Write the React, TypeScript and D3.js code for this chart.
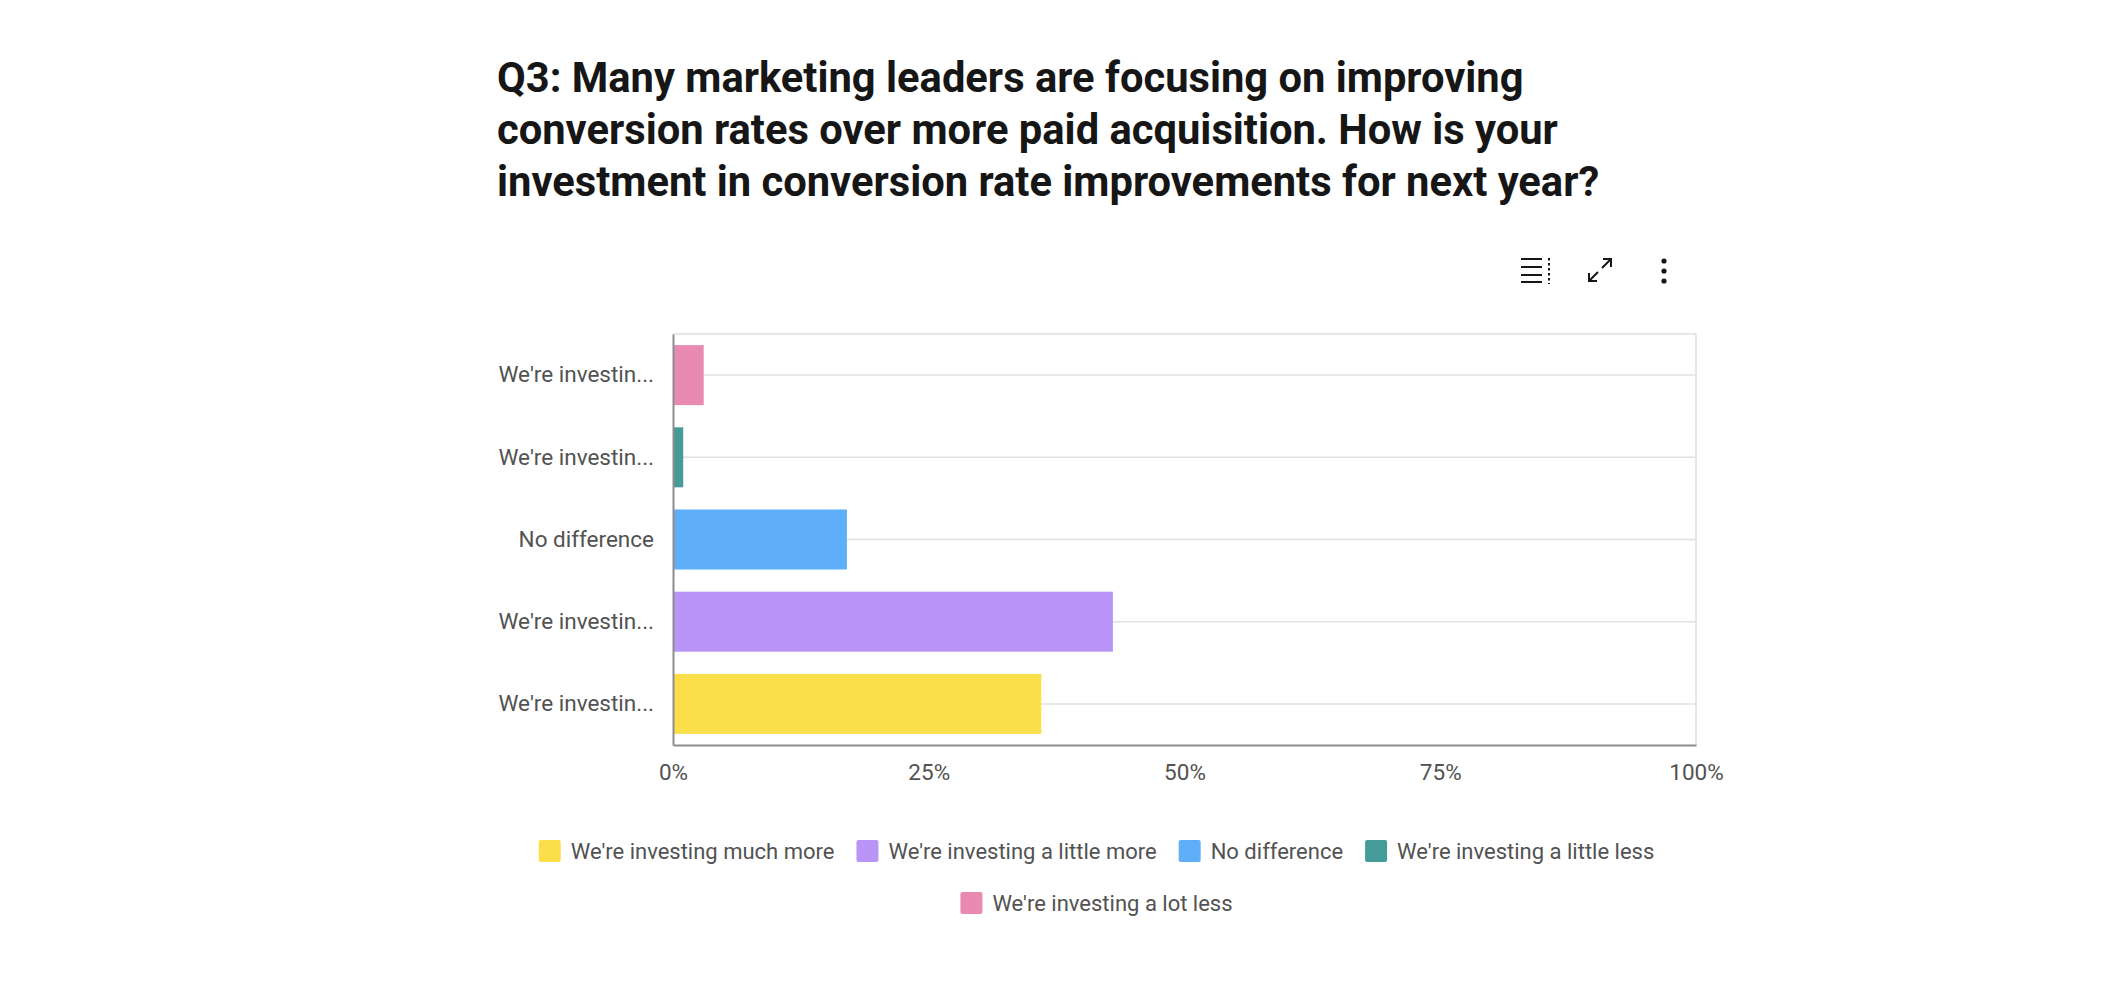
import { useEffect, useRef } from "react";
import * as d3 from "d3";

const titleLines = [
    "Q3: Many marketing leaders are focusing on improving",
    "conversion rates over more paid acquisition. How is your",
    "investment in conversion rate improvements for next year?",
];

// legend order, bottom bar first
const categories = [
    "We're investing much more",
    "We're investing a little more",
    "No difference",
    "We're investing a little less",
    "We're investing a lot less",
];
const shares = [36, 43, 17, 1, 3];
const colors = ["#fadf4b", "#b895f6", "#5eaff8", "#459b97", "#e98ab3"];
const xTicks = [0, 25, 50, 75, 100];

const W = 2116;
const H = 982;
const FONT = "Roboto, 'Open Sans', sans-serif";

const truncate = (s: string) => (s.length > 16 ? s.slice(0, 14) + "..." : s);

const App = () => {
    const svgRef = useRef<SVGSVGElement>(null);

    useEffect(() => {
        document.body.style.margin = "0";
        if (!svgRef.current) return;
        const svg = d3.select(svgRef.current);
        svg.selectAll("*").remove();

        const plot = { left: 673, right: 1696, top: 334, bottom: 745 };
        const chartLeft = 497;

        // title
        svg.append("g")
            .selectAll("text")
            .data(titleLines)
            .join("text")
            .attr("x", 497)
            .attr("y", (_, i) => 92 + i * 52)
            .attr("font-family", FONT)
            .attr("font-size", 41.7)
            .attr("font-weight", 700)
            .attr("fill", "#161616")
            .text(d => d);

        // toolbar icons
        const tb = svg.append("g").attr("stroke", "#161616").attr("fill", "none");
        [259, 267, 275, 282].forEach(yy => {
            tb.append("line").attr("x1", 1521).attr("x2", 1542).attr("y1", yy).attr("y2", yy).attr("stroke-width", 2);
        });
        tb.append("line").attr("x1", 1549).attr("x2", 1549).attr("y1", 258).attr("y2", 284)
            .attr("stroke-width", 2).attr("stroke-dasharray", "2.5 2.5");
        tb.append("path").attr("d", "M1589,281 L1598,272 M1602,268 L1611,259 M1603,259 L1611,259 L1611,267 M1589,273 L1589,281 L1597,281")
            .attr("stroke-width", 2);
        [261, 271, 281].forEach(cy => {
            svg.append("circle").attr("cx", 1664).attr("cy", cy).attr("r", 2.6).attr("fill", "#161616");
        });

        const x = d3.scaleLinear().domain([0, 100]).range([plot.left, plot.right]);
        const y = d3.scaleBand<string>()
            .domain(categories.slice().reverse())
            .range([plot.top, plot.bottom])
            .paddingInner(0.27)
            .paddingOuter(0.135);

        // frame + grid
        svg.append("path")
            .attr("d", `M${plot.left},${plot.top} H${plot.right} V${plot.bottom}`)
            .attr("fill", "none").attr("stroke", "#e0e0e0").attr("stroke-width", 1.5);
        svg.append("g")
            .selectAll("line")
            .data(categories)
            .join("line")
            .attr("x1", plot.left).attr("x2", plot.right)
            .attr("y1", d => (y(d) ?? 0) + y.bandwidth() / 2)
            .attr("y2", d => (y(d) ?? 0) + y.bandwidth() / 2)
            .attr("stroke", "#e0e0e0").attr("stroke-width", 1.5);

        // bars
        svg.append("g")
            .selectAll("rect")
            .data(categories)
            .join("rect")
            .attr("x", x(0))
            .attr("y", d => y(d) ?? 0)
            .attr("width", (_, i) => x(shares[i]) - x(0))
            .attr("height", y.bandwidth())
            .attr("fill", (_, i) => colors[i]);

        // axes
        const yAxis = svg.append("g")
            .attr("transform", `translate(${plot.left},0)`)
            .call(d3.axisLeft(y).tickSize(0).tickPadding(19).tickFormat(d => truncate(d)));
        const xAxis = svg.append("g")
            .attr("transform", `translate(0,${plot.bottom})`)
            .call(d3.axisBottom(x).tickValues(xTicks).tickSize(0).tickPadding(19).tickFormat(d => `${d}%`));
        [yAxis, xAxis].forEach(a => {
            a.select(".domain").attr("stroke", "#8d8d8d").attr("stroke-width", 2);
            a.selectAll("text")
                .attr("font-family", FONT)
                .attr("font-size", 22.5)
                .attr("fill", "#525252");
        });

        // legend
        const legend = svg.append("g");
        const fs = 22;
        const items = categories.map((name, i) => {
            const g = legend.append("g");
            g.append("rect").attr("width", 22).attr("height", 22).attr("rx", 2).attr("fill", colors[i]);
            const t = g.append("text")
                .attr("x", 32).attr("y", 19)
                .attr("font-family", FONT).attr("font-size", fs).attr("fill", "#525252")
                .text(name);
            const w = 32 + (t.node() as SVGTextElement).getComputedTextLength();
            return { g, w };
        });
        const maxWidth = plot.right - chartLeft;
        const gap = 22;
        const rows: { g: any; w: number }[][] = [[]];
        let rowW = 0;
        items.forEach(it => {
            const add = (rows[rows.length - 1].length ? gap : 0) + it.w;
            if (rowW + add > maxWidth && rows[rows.length - 1].length) {
                rows.push([it]);
                rowW = it.w;
            } else {
                rows[rows.length - 1].push(it);
                rowW += add;
            }
        });
        const center = (chartLeft + plot.right) / 2;
        rows.forEach((row, r) => {
            const total = d3.sum(row, d => d.w) + gap * (row.length - 1);
            let cx = center - total / 2;
            row.forEach(it => {
                it.g.attr("transform", `translate(${cx},${840 + r * 52})`);
                cx += it.w + gap;
            });
        });
    }, []);

    return (
        <svg
            ref={svgRef}
            width={W}
            height={H}
            viewBox={`0 0 ${W} ${H}`}
            style={{ display: "block", background: "#ffffff" }}
        />
    );
};

export default App;
